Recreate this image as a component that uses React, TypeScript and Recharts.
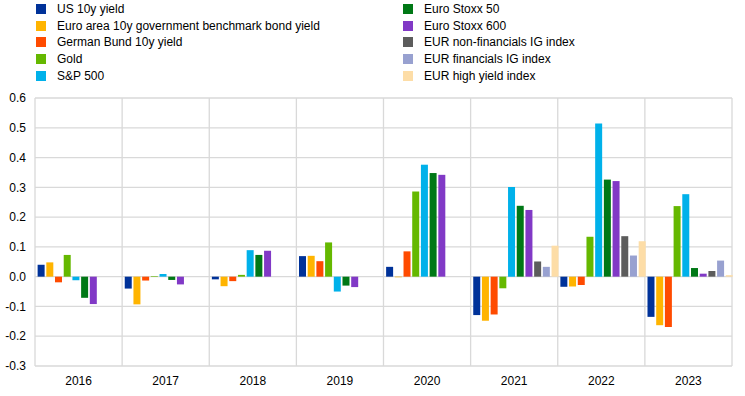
import { BarChart, Bar, XAxis, YAxis, CartesianGrid } from 'recharts';

const years = ['2016', '2017', '2018', '2019', '2020', '2021', '2022', '2023'];

const us10y = [0.04, -0.04, -0.009, 0.069, 0.033, -0.129, -0.034, -0.135];
const euroArea10y = [0.048, -0.093, -0.032, 0.07, -0.002, -0.148, -0.033, -0.163];
const bund10y = [-0.019, -0.013, -0.015, 0.052, 0.085, -0.127, -0.028, -0.169];
const gold = [0.073, 0.002, 0.006, 0.115, 0.286, -0.039, 0.134, 0.237];
const sp500 = [-0.012, 0.009, 0.089, -0.05, 0.376, 0.301, 0.514, 0.277];
const stoxx50 = [-0.071, -0.011, 0.073, -0.03, 0.348, 0.238, 0.326, 0.029];
const stoxx600 = [-0.092, -0.026, 0.087, -0.035, 0.342, 0.224, 0.321, 0.01];
const nonFinIG = [null, null, null, null, null, 0.051, 0.136, 0.019];
const finIG = [null, null, null, null, null, 0.033, 0.071, 0.054];
const highYield = [null, null, null, null, null, 0.104, 0.119, 0.005];

const yTicks = [-0.3, -0.2, -0.1, 0, 0.1, 0.2, 0.3, 0.4, 0.5, 0.6];

const series = [
  { key: 'us10y', name: 'US 10y yield', color: '#003299', values: us10y },
  { key: 'euroArea10y', name: 'Euro area 10y government benchmark bond yield', color: '#FFB400', values: euroArea10y },
  { key: 'bund10y', name: 'German Bund 10y yield', color: '#FF4B00', values: bund10y },
  { key: 'gold', name: 'Gold', color: '#65B800', values: gold },
  { key: 'sp500', name: 'S&P 500', color: '#00B1EA', values: sp500 },
  { key: 'stoxx50', name: 'Euro Stoxx 50', color: '#007816', values: stoxx50 },
  { key: 'stoxx600', name: 'Euro Stoxx 600', color: '#8139C6', values: stoxx600 },
  { key: 'nonFinIG', name: 'EUR non-financials IG index', color: '#5C5C5C', values: nonFinIG },
  { key: 'finIG', name: 'EUR financials IG index', color: '#98A1D0', values: finIG },
  { key: 'highYield', name: 'EUR high yield index', color: '#FDDDA7', values: highYield },
];

const data = years.map((year, i) => {
  const row: Record<string, string | number | null> = { year };
  series.forEach((s) => {
    row[s.key] = s.values[i];
  });
  return row;
});

const font = '"Liberation Sans", Arial, sans-serif';

function LegendBlock() {
  const left = series.slice(0, 5);
  const right = series.slice(5);
  const col = (items: typeof series, x: number) =>
    items.map((s, i) => (
      <div
        key={s.key}
        style={{ position: 'absolute', left: x, top: 2 + i * 16.7, height: 14, display: 'flex', alignItems: 'center' }}
      >
        <div style={{ width: 10, height: 10, background: s.color, marginRight: 11 }} />
        <span style={{ fontSize: 12, color: '#000', whiteSpace: 'nowrap' }}>{s.name}</span>
      </div>
    ));
  return (
    <div style={{ position: 'absolute', left: 0, top: 0, fontFamily: font }}>
      {col(left, 36)}
      {col(right, 403)}
    </div>
  );
}

export default function App() {
  return (
    <div style={{ position: 'absolute', left: 0, top: 0, width: 745, height: 396, background: '#fff' }}>
      <BarChart
        width={745}
        height={396}
        data={data}
        margin={{ top: 98, right: 13, bottom: 0, left: 0 }}
        barCategoryGap="3%"
        barGap={1.7}
      >
        <CartesianGrid
          stroke="#d9d9d9"
          strokeWidth={1.3}
          verticalCoordinatesGenerator={({ offset }: any) =>
            years.map((_, i) => offset.left + (i * offset.width) / years.length).concat(offset.left + offset.width)
          }
        />
        <XAxis
          dataKey="year"
          axisLine={false}
          tickLine={false}
          tickSize={0}
          tickMargin={10}
          height={30}
          interval={0}
          tick={{ fill: '#000', fontSize: 12, fontFamily: font }}
        />
        <YAxis
          domain={[-0.3, 0.6]}
          ticks={yTicks}
          axisLine={false}
          tickLine={false}
          tickSize={0}
          tickMargin={9}
          width={35}
          interval={0}
          tickFormatter={(v: number) => v.toFixed(1)}
          tick={{ fill: '#000', fontSize: 12, fontFamily: font }}
        />
        {series.map((s) => (
          <Bar key={s.key} dataKey={s.key} name={s.name} fill={s.color} isAnimationActive={false} />
        ))}
      </BarChart>
      <LegendBlock />
    </div>
  );
}
